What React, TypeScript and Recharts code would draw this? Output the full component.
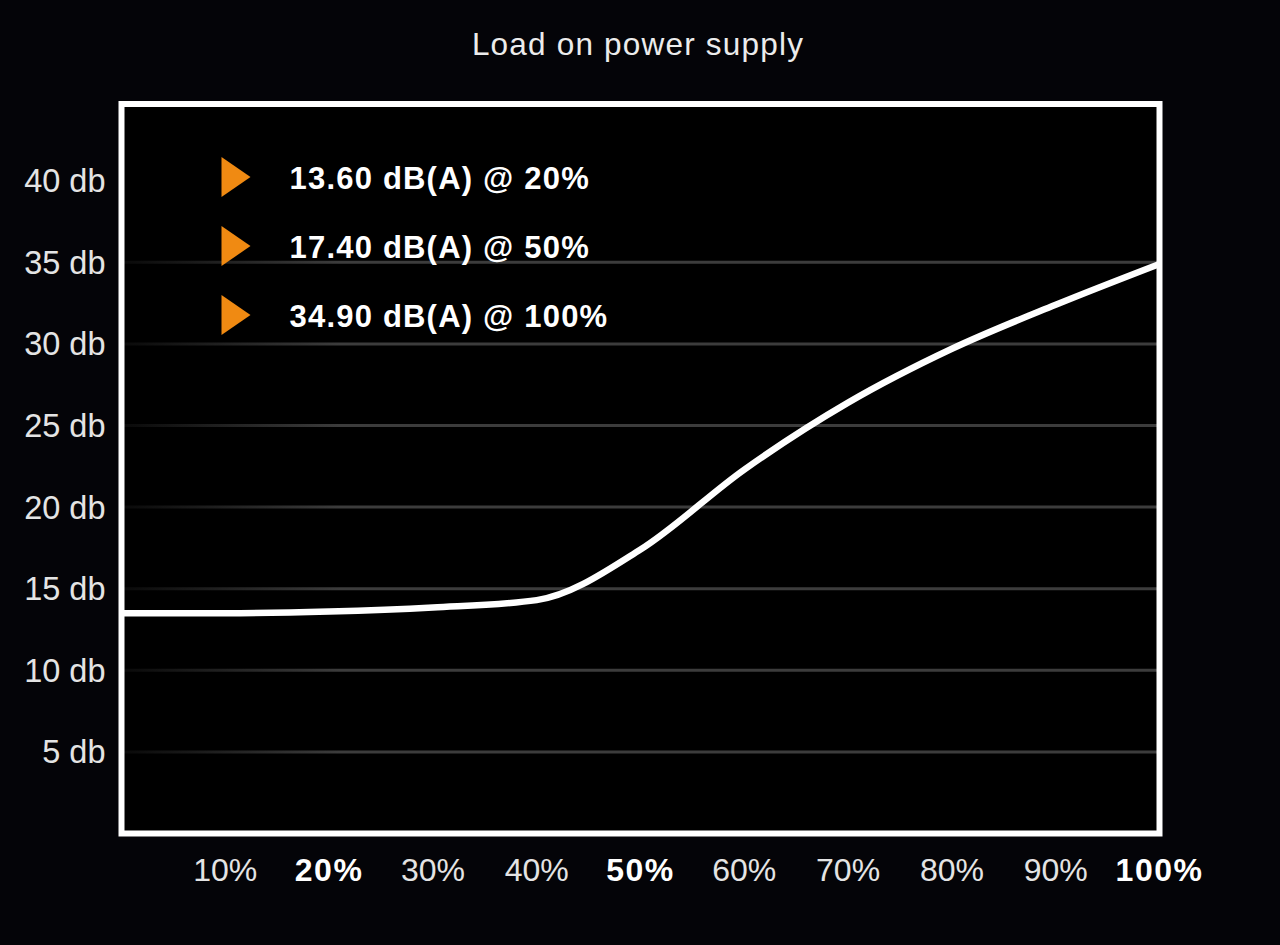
import React from 'react';
import {
    LineChart,
    Line,
    XAxis,
    YAxis,
    CartesianGrid,
    ReferenceArea,
    Customized,
} from 'recharts';

// load on the power supply (%) and measured noise (dB)
const loadPct = [0, 10, 20, 30, 40, 50, 60, 70, 80, 90, 100];
const noiseDb = [13.5, 13.5, 13.6, 13.85, 14.3, 17.4, 22.3, 26.4, 29.7, 32.4, 34.9];

const xTicks = [10, 20, 30, 40, 50, 60, 70, 80, 90, 100];
const boldLoads = [20, 50, 100];
const yTicks = [5, 10, 15, 20, 25, 30, 35, 40];
const gridValues = [5, 10, 15, 20, 25, 30, 35];
const yMax = 44.7;

const title = 'Load on power supply';
const highlights = ['13.60 dB(A) @ 20%', '17.40 dB(A) @ 50%', '34.90 dB(A) @ 100%'];

const data = loadPct.map((load, i) => ({ load, db: noiseDb[i] }));

const WIDTH = 1280;
const HEIGHT = 945;
const PLOT_LEFT = 121.5;
const PLOT_TOP = 104;
const Y_AXIS_W = 100;
const X_AXIS_H = 60;
const FONT = '"Liberation Sans", Arial, Helvetica, sans-serif';

const XTick = (props: any) => {
    const { x, y, payload } = props;
    const bold = boldLoads.includes(payload.value);
    return (
        <text
            x={x}
            y={y}
            dy="0.71em"
            textAnchor="middle"
            fontFamily={FONT}
            fontSize={32}
            fontWeight={bold ? 700 : 400}
            letterSpacing={bold ? 1.5 : 0}
            fill={bold ? '#ffffff' : '#e4e4e4'}
        >
            {payload.value}%
        </text>
    );
};

const YTick = (props: any) => {
    const { x, y, payload } = props;
    return (
        <text
            x={x}
            y={y}
            dy="0.355em"
            textAnchor="end"
            fontFamily={FONT}
            fontSize={32.5}
            fill="#e4e4e4"
        >
            {payload.value} db
        </text>
    );
};

const Overlay = () => (
    <g>
        <text
            x={638}
            y={55}
            textAnchor="middle"
            fontFamily={FONT}
            fontSize={31.5}
            letterSpacing={1.2}
            fill="#ececec"
        >
            {title}
        </text>
        {highlights.map((label, i) => {
            const cy = PLOT_TOP + 73 + i * 69;
            const tx = PLOT_LEFT + 100;
            return (
                <g key={label}>
                    <polygon
                        points={`${tx},${cy - 20} ${tx + 29},${cy} ${tx},${cy + 20}`}
                        fill="#f08a12"
                    />
                    <text
                        x={tx + 68}
                        y={cy + 12}
                        fontFamily={FONT}
                        fontSize={31}
                        fontWeight={700}
                        letterSpacing={1.2}
                        fill="#ffffff"
                    >
                        {label}
                    </text>
                </g>
            );
        })}
    </g>
);

export default function App() {
    return (
        <div
            style={{
                position: 'absolute',
                left: 0,
                top: 0,
                width: WIDTH,
                height: HEIGHT,
                background: '#040408',
            }}
        >
            <svg width={0} height={0} style={{ position: 'absolute' }}>
                <defs>
                    <linearGradient id="gridFade" gradientUnits="userSpaceOnUse" x1={120} y1={0} x2={340} y2={0}>
                        <stop offset="0%" stopColor="#3c3c3c" stopOpacity={0.15} />
                        <stop offset="100%" stopColor="#3c3c3c" stopOpacity={1} />
                    </linearGradient>
                </defs>
            </svg>
            <LineChart
                width={WIDTH}
                height={HEIGHT}
                data={data}
                margin={{
                    top: PLOT_TOP,
                    right: WIDTH - 1159.5,
                    bottom: HEIGHT - 833.5 - X_AXIS_H,
                    left: PLOT_LEFT - Y_AXIS_W,
                }}
            >
                <CartesianGrid
                    vertical={false}
                    horizontalValues={gridValues}
                    stroke="url(#gridFade)"
                    strokeWidth={3}
                    fill="#000000"
                    fillOpacity={1}
                />
                <XAxis
                    dataKey="load"
                    type="number"
                    domain={[0, 100]}
                    ticks={xTicks}
                    height={X_AXIS_H}
                    axisLine={false}
                    tickLine={false}
                    tickSize={0}
                    tickMargin={25}
                    tick={<XTick />}
                    interval={0}
                />
                <YAxis
                    type="number"
                    domain={[0, yMax]}
                    ticks={yTicks}
                    width={Y_AXIS_W}
                    axisLine={false}
                    tickLine={false}
                    tickSize={0}
                    tickMargin={16}
                    tick={<YTick />}
                    interval={0}
                />
                <Line
                    type="monotone"
                    dataKey="db"
                    stroke="#ffffff"
                    strokeWidth={6.5}
                    dot={false}
                    activeDot={false}
                    isAnimationActive={false}
                />
                <ReferenceArea
                    x1={0}
                    x2={100}
                    y1={0}
                    y2={yMax}
                    fill="none"
                    stroke="#ffffff"
                    strokeWidth={6}
                    ifOverflow="visible"
                />
                <Customized component={Overlay} />
            </LineChart>
        </div>
    );
}
